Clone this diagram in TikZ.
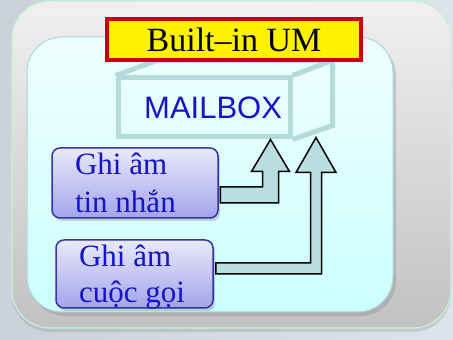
\documentclass[tikz,border=0pt]{standalone}
\usepackage{fontspec}
\setmainfont{Liberation Serif}
\newfontfamily\arialfont{Liberation Sans}
\usetikzlibrary{calc,shadows}
\definecolor{slidebg}{HTML}{DCE4EB}
\definecolor{panelline}{HTML}{C5F2D5}
\definecolor{innerline}{HTML}{A9D5D8}
\definecolor{boxline}{HTML}{B5DADB}
\definecolor{arrowfill}{HTML}{B9DEE0}
\definecolor{recline}{HTML}{3535A5}
\definecolor{textblue}{HTML}{1414C8}
\definecolor{titlered}{HTML}{CC0000}
\tikzset{
  panel/.style={rounded corners=38pt, draw=panelline, line width=1.2pt,
    top color=white!94!black, bottom color=white!76!black,
    drop shadow={shadow xshift=0pt, shadow yshift=-4pt, opacity=.25}},
  innerpanel/.style={rounded corners=35pt, draw=innerline, line width=1pt,
    top color={rgb,255:red,239;green,255;blue,255}, bottom color={rgb,255:red,204;green,255;blue,255},
    drop shadow={shadow xshift=3pt, shadow yshift=-4pt, opacity=.3}},
  titlebox/.style={draw=titlered, line width=4pt, fill=yellow, minimum width=254pt,
    minimum height=41pt, inner sep=0pt, font=\fontsize{34}{40}\selectfont},
  mailboxface/.style={draw=boxline, line width=5pt, minimum width=172pt, minimum height=59pt,
    text width=156pt, inner xsep=8pt, align=flush right, text=textblue,
    font=\arialfont\fontsize{31}{36}\selectfont},
  recbox/.style={draw=recline, line width=1.5pt, rounded corners=8pt,
    top color={rgb,255:red,233;green,233;blue,251}, bottom color={rgb,255:red,163;green,163;blue,234},
    drop shadow={shadow xshift=2pt, shadow yshift=-3pt, opacity=.35},
    inner xsep=23pt, align=flush left, text=textblue},
  blockarrow/.style={fill=arrowfill, draw=black, line width=1.5pt, line join=miter}
}
% start, tip, half shaft, half head, head length
\newcommand{\upbendarrow}[5]{%
  \filldraw[blockarrow] let \p1=(#1), \p2=(#2) in
    (\x1,\y1+#3) -- (\x2-#3,\y1+#3) -- (\x2-#3,\y2-#5)
    -- (\x2-#4,\y2-#5) -- (\x2,\y2) -- (\x2+#4,\y2-#5)
    -- (\x2+#3,\y2-#5) -- (\x2+#3,\y1-#3) -- (\x1,\y1-#3) -- cycle;}
\begin{document}
\begin{tikzpicture}[x=1pt,y=1pt]
  \useasboundingbox (0,0) rectangle (453,340);
  \shade[left color=slidebg!92!black, right color=slidebg] (0,0) rectangle (453,340);
  \path[panel] (12,12) rectangle (451,339);
  \path[innerpanel] (27,28) rectangle (393,303);
  % mailbox
  \node[mailboxface] (mailbox) at (204,232.5) {MAILBOX};
  \draw[boxline, line width=5pt] (mailbox.north west) -- ++(42,15)
    -- ($(mailbox.north east)+(40,15)$) -- ($(mailbox.south east)+(40,14)$) -- (mailbox.south east);
  \draw[boxline, line width=5pt] (mailbox.north east) -- ++(40,15);
  \node[titlebox] (title) at (234,300.5) {Built–in UM};
  % recordings
  \node[recbox, minimum width=166pt, minimum height=70pt, text width=120pt,
    font=\fontsize{31}{38}\selectfont] (tin) at (135,157) {Ghi âm\\tin nhắn};
  \node[recbox, minimum width=157pt, minimum height=68pt, text width=111pt,
    font=\fontsize{31}{36}\selectfont] (cuoc) at (134.5,66) {Ghi âm\\\raisebox{0pt}[\height][0pt]{cuộc gọi}};
  \coordinate (in1) at ($(tin.east)+(1.5,-12)$);
  \coordinate (in2) at ($(cuoc.east)+(2,5.5)$);
  \coordinate (tip1) at ($(mailbox.south east)+(-22,0)$);
  \coordinate (tip2) at ($(mailbox.south east)+(23.5,2)$);
  \upbendarrow{in1}{tip1}{8pt}{19pt}{32pt}
  \upbendarrow{in2}{tip2}{5.5pt}{20pt}{35pt}
\end{tikzpicture}
\end{document}
